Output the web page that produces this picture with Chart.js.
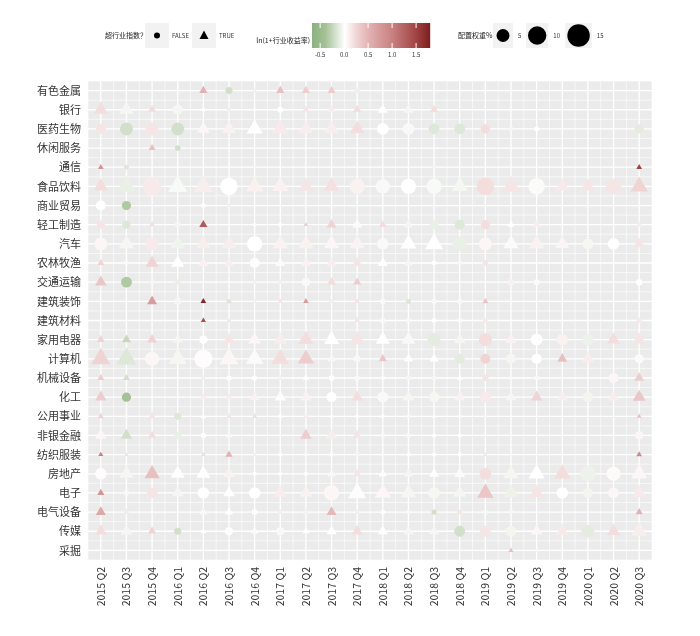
<!DOCTYPE html>
<html><head><meta charset="utf-8">
<script src="https://cdn.jsdelivr.net/npm/chart.js@4"></script>
<style>html,body{margin:0;padding:0;background:#fff}#w{width:700px;height:636px}</style>
</head><body><div id="w"><canvas id="c"></canvas></div>
<script>
const industries=["有色金属","银行","医药生物","休闲服务","通信","食品饮料","商业贸易","轻工制造","汽车","农林牧渔","交通运输","建筑装饰","建筑材料","家用电器","计算机","机械设备","化工","公用事业","非银金融","纺织服装","房地产","电子","电气设备","传媒","采掘"];
const quarters=["2015 Q2","2015 Q3","2015 Q4","2016 Q1","2016 Q2","2016 Q3","2016 Q4","2017 Q1","2017 Q2","2017 Q3","2017 Q4","2018 Q1","2018 Q2","2018 Q3","2018 Q4","2019 Q1","2019 Q2","2019 Q3","2019 Q4","2020 Q1","2020 Q2","2020 Q3"];
// per industry: [quarterIndex, aboveIndex(1=TRUE), ln(1+return), weight%]
const obs=[
[[4,1,.5,2],[5,0,-.2,1.5],[6,1,.1,1],[7,1,.4,2],[8,1,.3,2],[9,1,.3,2],[10,0,-.08,1]],
[[0,1,.2,6],[1,1,-.05,6],[2,1,.2,2],[3,0,-.05,3],[4,0,0,.5],[5,0,.1,.5],[6,0,0,.3],[7,0,0,1],[8,1,.15,1.5],[9,1,.1,2],[10,1,.2,2],[11,1,0,3],[12,1,-.05,3],[13,1,.2,2]],
[[0,0,.15,3],[1,0,-.2,5],[2,0,.15,5],[3,0,-.2,5],[4,1,.05,5],[5,1,.08,6],[6,1,0,8],[7,1,.12,8],[8,1,.1,6],[9,1,.1,6],[10,1,.2,6],[11,0,0,4],[12,0,-.03,4],[13,0,-.15,3.5],[14,0,-.15,3.5],[15,0,.2,2.5],[16,0,-.05,.7],[17,0,0,.7],[21,0,-.12,2.5]],
[[2,1,.4,1.5],[3,0,-.2,1]],
[[0,1,.8,1],[1,0,-.15,.7],[6,0,.05,.3],[13,0,-.05,.5],[21,1,1.5,1]],
[[0,1,.2,6],[1,1,-.1,10],[2,0,.12,10],[3,1,-.03,11],[4,1,.1,11],[5,0,0,9],[6,1,.08,9],[7,1,.08,8],[8,1,.15,7],[9,1,.18,7],[10,0,.08,7],[11,0,-.03,6],[12,0,0,7],[13,0,-.03,7],[14,1,-.05,8],[15,0,.2,9],[16,1,.15,10],[17,0,-.02,8],[18,1,.12,6],[19,1,.15,6],[20,0,.15,7],[21,1,.25,9]],
[[0,0,0,3],[1,0,-.35,2.5],[4,0,.02,.7],[5,1,.1,.5]],
[[0,0,.15,2],[1,0,-.15,2],[2,1,.2,1],[3,0,-.05,1],[4,1,1.3,2],[6,0,0,.5],[7,0,0,.5],[8,1,.3,.7],[9,1,.25,3],[10,1,-.02,3],[11,1,.2,2],[12,1,-.05,2.5],[13,0,-.1,2.5],[14,0,-.15,3],[15,0,.2,2.5],[16,1,0,1.5],[17,1,.1,2],[21,1,.1,1.5]],
[[0,0,.05,5],[1,1,-.05,7],[2,0,.12,5],[3,1,-.07,7],[4,1,.1,6],[5,1,.1,7],[6,0,0,7],[7,1,.08,7],[8,1,.08,7],[9,1,.05,7],[10,1,.07,7],[11,0,-.03,4],[12,1,0,8],[13,1,0,10],[14,0,-.1,6],[15,0,.05,5],[16,1,-.02,7],[17,1,.08,7],[18,1,.06,6],[19,0,-.05,3.5],[20,0,0,4],[21,1,.15,4]],
[[0,1,.25,1.5],[1,0,-.03,.7],[2,1,.25,5],[3,1,0,5],[4,1,.08,3],[5,1,.1,3],[6,0,.02,3],[7,1,.03,3],[8,1,.08,3],[9,1,.1,3],[10,1,.15,3],[11,1,0,3],[12,1,-.05,2],[13,0,0,.7],[14,0,.05,.7],[15,0,.15,1]],
[[0,1,.35,4],[1,0,-.35,3.5],[2,0,.05,.5],[3,0,-.1,.8],[6,1,.1,.8],[7,1,.1,.8],[8,0,-.03,2],[9,1,.2,2.5],[10,1,.3,2],[16,0,.08,1.2],[17,0,-.02,1],[21,0,0,1.2]],
[[2,1,.7,3],[3,0,-.05,1.5],[4,1,1.7,1],[5,0,-.15,.7],[6,1,.1,.7],[7,1,.15,.8],[8,1,.7,1],[9,0,-.08,.5],[10,1,.15,1.2],[11,0,-.03,1],[12,0,-.15,.8],[13,0,-.03,.8],[14,0,-.03,.8],[15,1,.35,1.2]],
[[4,1,1.4,.8],[5,0,-.1,.5],[10,1,.15,1.2],[11,0,.05,1],[12,0,-.03,.7],[13,0,0,.7],[14,0,0,.7],[15,0,.12,.8],[21,0,.12,1]],
[[0,1,.25,2],[1,1,-.25,2.5],[2,1,.25,3],[3,1,-.05,3],[4,0,0,2],[5,1,.15,4],[6,1,.05,5],[7,1,.1,5],[8,1,.2,7],[9,1,0,7],[10,1,.15,7],[11,1,0,6],[12,1,-.03,6],[13,0,-.12,5],[14,1,-.05,4],[15,0,.2,5],[16,1,.08,4],[17,0,0,4],[18,0,.08,4],[19,0,-.08,4],[20,1,.2,5],[21,1,.15,5]],
[[0,1,.25,11],[1,1,-.15,12],[2,0,.05,6],[3,1,-.05,10],[4,0,.02,10],[5,1,.05,11],[6,1,-.02,9],[7,1,.2,9],[8,1,.3,8],[9,1,.05,2],[10,0,-.04,1.5],[11,1,.35,2],[12,1,0,2.5],[13,1,0,2.5],[14,0,-.12,3],[15,0,.25,3],[16,0,-.05,3],[17,0,0,3],[18,1,.4,3],[19,1,.1,5],[21,0,-.02,2.5]],
[[0,1,.3,1.5],[1,1,-.2,1.5],[4,1,.1,1],[5,0,.02,.8],[6,0,0,.8],[7,1,.08,1],[8,1,0,1.2],[9,0,.02,1],[10,0,-.03,.8],[11,0,0,.5],[12,0,-.05,.8],[13,0,-.05,.8],[14,1,0,1],[15,0,.15,1.2],[16,0,-.03,.5],[17,0,-.03,.7],[20,0,.05,3],[21,1,.3,3]],
[[0,1,.3,4],[1,0,-.4,2.5],[4,1,.1,1.5],[5,1,.1,1.5],[6,1,.08,3],[7,1,.02,4],[8,1,.08,4],[9,0,0,3],[10,1,.2,4],[11,0,-.03,3.5],[12,1,-.05,4],[13,0,-.05,3],[14,1,.08,3.5],[15,0,.12,3.5],[16,1,-.05,3.5],[17,1,.25,4],[18,1,.1,4],[19,0,-.06,3],[20,1,.1,4],[21,1,.35,5]],
[[0,1,.25,1.2],[1,0,-.03,.5],[2,1,.15,2],[3,0,-.15,1.5],[4,1,0,1],[5,1,.15,1],[6,1,.2,.8],[7,0,0,.5],[8,0,.1,.5],[9,0,0,.5],[10,0,0,.5],[11,0,0,.5],[12,0,-.03,.5],[13,1,0,.5],[14,0,0,.5],[15,0,.05,.5],[21,1,.4,.7]],
[[0,1,.05,4],[1,1,-.2,4],[2,1,.2,2],[3,0,-.1,1.5],[4,0,0,.8],[5,1,.05,1.5],[8,1,.3,4],[9,1,.1,4],[10,1,.15,2.5],[11,0,-.03,.7],[12,0,-.03,.7],[13,0,0,.5],[14,0,0,.5],[21,0,.05,2]],
[[0,1,1.0,.8],[1,1,.2,.5],[4,1,.2,.8],[5,1,.5,1.5],[6,1,.1,.5],[7,0,0,.5],[8,0,-.03,.5],[9,0,0,.5],[10,0,-.05,.7],[11,0,-.03,.5],[12,0,0,.5],[13,0,0,.5],[14,0,0,.5],[15,1,.15,.5],[21,1,.9,1]],
[[0,0,.02,4],[1,1,-.05,6],[2,1,.4,7],[3,1,0,6],[4,1,0,6],[5,1,.08,4],[6,0,0,.5],[7,0,0,.5],[8,0,0,.5],[9,1,.05,2],[10,1,.15,2],[11,1,0,2],[12,1,-.05,2.5],[13,1,0,3],[14,1,-.02,3.5],[15,0,.2,4],[16,1,-.05,7],[17,1,0,8],[18,1,.2,8],[19,0,-.08,7],[20,0,.03,6],[21,1,.05,8]],
[[0,1,.8,1.5],[1,0,-.03,.8],[2,0,.15,3],[3,1,-.05,4],[4,0,0,4],[5,1,0,4],[6,0,0,4],[7,1,.1,5],[8,1,.08,5],[9,0,.05,7],[10,1,.01,10],[11,1,.05,8],[12,1,-.05,7],[13,0,-.05,4],[14,1,-.05,5],[15,1,.35,8],[16,1,-.08,7],[17,1,.15,6],[18,0,0,4],[19,0,-.06,3],[20,0,.05,3.5],[21,1,.12,6]],
[[0,1,.6,3],[1,1,-.1,1.5],[4,1,.05,2],[5,1,0,2],[6,0,0,1],[7,1,.1,1],[8,1,.08,1.5],[9,1,.45,3],[10,1,.1,1],[11,0,0,.7],[12,0,-.03,.7],[13,0,-.2,.8],[14,0,.15,.7],[15,0,-.03,.7],[16,0,.05,.7],[21,1,.5,1.5]],
[[0,1,.2,4],[1,1,-.05,4],[2,1,.25,2],[3,0,-.2,1.5],[4,1,0,1],[5,0,.02,2],[6,1,-.02,2],[7,0,-.03,2],[8,1,0,1.5],[9,1,0,3],[10,1,.2,3.5],[11,1,0,3],[12,1,-.05,3],[13,1,-.05,3],[14,0,-.2,3.5],[15,0,.15,3.5],[16,0,-.06,3.5],[17,1,.05,4],[18,1,.12,5],[19,0,-.12,5],[20,1,.2,5],[21,1,.1,8]],
[[16,1,.4,.8],[17,0,-.03,.3]]
];
const legendSizes=[5,10,15];
const colorTicks=[-0.5,0,0.5,1,1.5];

const stops=[[-0.7,[140,175,125]],[-0.4,[165,193,150]],[0,[255,255,255]],[0.25,[240,212,212]],[0.5,[226,178,178]],[1.0,[200,128,128]],[1.5,[160,66,66]],[1.8,[122,28,28]]];
function col(v){v=Math.max(-0.7,Math.min(1.8,v));for(let i=0;i<stops.length-1;i++){const a=stops[i],b=stops[i+1];if(v<=b[0]){const t=(v-a[0])/(b[0]-a[0]);const c=a[1].map((x,k)=>Math.round(x+(b[1][k]-x)*t));return `rgb(${c})`;}}return 'rgb(122,28,28)';}
const rad=w=>2.9*Math.sqrt(w);
const circ=[],tri=[];
obs.forEach((row,yi)=>row.forEach(([q,t,v,w])=>{(t?tri:circ).push({x:q,y:yi,v,w});}));
const ds=(data,shape)=>({data,pointStyle:shape,pointRadius:c=>rad(c.raw.w)*(shape==='triangle'?1.15:1),pointHoverRadius:c=>rad(c.raw.w),backgroundColor:c=>col(c.raw.v),borderWidth:0});
const F='"Noto Sans CJK SC","Noto Sans",sans-serif';
const bg={id:'bg',beforeDraw(ch){const {ctx,chartArea:a,scales:{x,y}}=ch;ctx.save();ctx.fillStyle='#EBEBEB';ctx.fillRect(a.left,a.top,a.right-a.left,a.bottom-a.top);ctx.strokeStyle='#fff';ctx.lineWidth=0.6;for(let i=-0.5;i<=21.5;i++){const p=x.getPixelForValue(i);ctx.beginPath();ctx.moveTo(p,a.top);ctx.lineTo(p,a.bottom);ctx.stroke();}for(let i=-0.5;i<=24.5;i++){const p=y.getPixelForValue(i);ctx.beginPath();ctx.moveTo(a.left,p);ctx.lineTo(a.right,p);ctx.stroke();}ctx.lineWidth=1.3;for(let i=0;i<22;i++){const p=x.getPixelForValue(i);ctx.beginPath();ctx.moveTo(p,a.top);ctx.lineTo(p,a.bottom);ctx.stroke();}for(let i=0;i<25;i++){const p=y.getPixelForValue(i);ctx.beginPath();ctx.moveTo(a.left,p);ctx.lineTo(a.right,p);ctx.stroke();}ctx.restore();},
afterDraw(ch){const ctx=ch.ctx;ctx.save();ctx.font='7px '+F;ctx.fillStyle='#222';ctx.textBaseline='middle';
ctx.fillText('超行业指数？',105,35);
ctx.fillStyle='#F2F2F2';ctx.fillRect(145,23,24,25);ctx.fillRect(192,23,24,25);
ctx.fillStyle='#000';ctx.beginPath();ctx.arc(157,35.5,3,0,7);ctx.fill();
ctx.beginPath();ctx.moveTo(204,30.5);ctx.lineTo(208.5,39);ctx.lineTo(199.5,39);ctx.closePath();ctx.fill();
ctx.fillStyle='#333';ctx.font='6px '+F;ctx.fillText('FALSE',172,35.5);ctx.fillText('TRUE',219,35.5);
ctx.font='7px '+F;ctx.fillStyle='#222';ctx.textAlign='right';ctx.fillText('ln(1+行业收益率)',310,40);ctx.textAlign='left';
const L=312,R=430,v0=-0.67,v1=1.79;for(let px=L;px<R;px++){ctx.fillStyle=col(v0+(v1-v0)*(px-L)/(R-L));ctx.fillRect(px,23,1.2,25);}
ctx.strokeStyle='#fff';ctx.lineWidth=1;ctx.font='6px '+F;ctx.fillStyle='#333';ctx.textAlign='center';
colorTicks.forEach(t=>{const px=L+(t-v0)/(v1-v0)*(R-L);ctx.beginPath();ctx.moveTo(px,23);ctx.lineTo(px,28);ctx.moveTo(px,43);ctx.lineTo(px,48);ctx.stroke();ctx.fillText(t.toFixed(1),px,55);});
ctx.textAlign='left';ctx.font='7px '+F;ctx.fillStyle='#222';ctx.fillText('配置权重%',458,35);
let bx=493;legendSizes.forEach(s=>{const r=rad(s),bw=Math.max(20,2*r+4);ctx.fillStyle='#F2F2F2';ctx.fillRect(bx,23,bw,25);ctx.fillStyle='#000';ctx.beginPath();ctx.arc(bx+bw/2,35.5,r,0,7);ctx.fill();ctx.font='6px '+F;ctx.fillStyle='#333';ctx.fillText(String(s),bx+bw+5,35.5);bx+=bw+5+ (s<10?8:12);});
ctx.restore();}};
new Chart(document.getElementById('c'),{type:'scatter',data:{datasets:[ds(circ,'circle'),ds(tri,'triangle')]},
options:{responsive:true,maintainAspectRatio:false,animation:false,layout:{padding:{top:81,right:48,left:0,bottom:0}},
plugins:{legend:{display:false},tooltip:{enabled:false}},
scales:{x:{type:'linear',min:-0.5,max:21.5,afterBuildTicks:s=>{s.ticks=quarters.map((q,i)=>({value:i}));},afterFit:s=>{s.height=76;},
ticks:{autoSkip:false,maxRotation:90,minRotation:90,color:'#333',font:{size:10.5,family:F},callback:v=>quarters[v]},grid:{display:false,drawTicks:true,tickLength:4,tickColor:'#333'},border:{display:false}},
y:{type:'linear',reverse:true,min:-0.5,max:24.5,afterBuildTicks:s=>{s.ticks=industries.map((n,i)=>({value:i}));},afterFit:s=>{s.width=88;},
ticks:{autoSkip:false,color:'#333',font:{size:11,family:F},callback:v=>industries[v]},grid:{display:false,tickLength:4,tickColor:'#333'},border:{display:false}}}},
plugins:[bg]});
</script></body></html>
